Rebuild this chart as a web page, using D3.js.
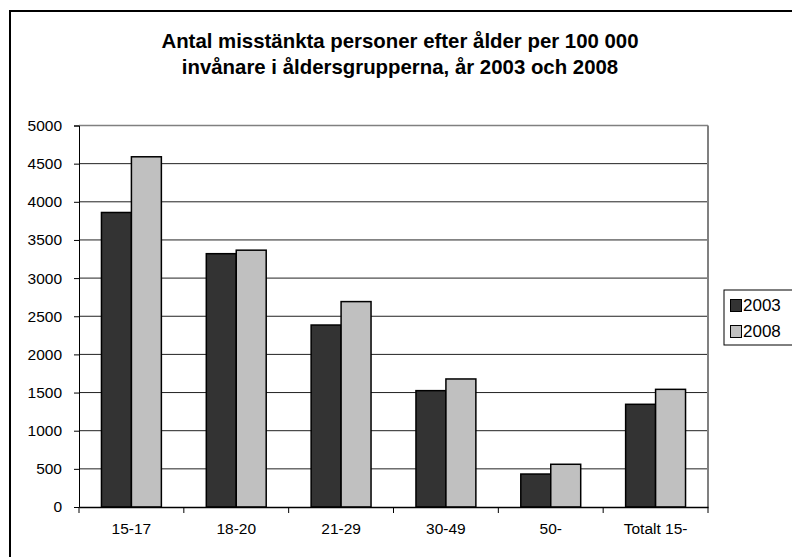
<!DOCTYPE html>
<html>
<head>
<meta charset="utf-8">
<script src="https://cdn.jsdelivr.net/npm/d3@7"></script>
<style>
  body { margin: 0; background: #fff; }
  text { font-family: "Liberation Sans", Arial, sans-serif; }
</style>
</head>
<body>
<div id="chart"></div>
<script>
var categories = ["15-17", "18-20", "21-29", "30-49", "50-", "Totalt 15-"];
var series = ["2003", "2008"];
var values2003 = [3860, 3320, 2385, 1525, 432, 1346];
var values2008 = [4590, 3366, 2692, 1678, 560, 1542];
var yTicks = [0, 500, 1000, 1500, 2000, 2500, 3000, 3500, 4000, 4500, 5000];
var colors = ["#333333", "#c0c0c0"];

var width = 792, height = 557;
var plot = { left: 79, right: 708, top: 125.5, bottom: 507 };

var svg = d3.select("#chart").append("svg").attr("width", width).attr("height", height);

// outer frame
svg.append("rect").attr("x", 10).attr("y", 11).attr("width", 800).attr("height", 600)
    .attr("fill", "#fff").attr("stroke", "#000").attr("stroke-width", 2);

svg.append("text").attr("x", 400).attr("y", 47.5).attr("text-anchor", "middle")
    .style("font-size", "20.4px").style("font-weight", "bold")
    .text("Antal misstänkta personer efter ålder per 100 000");
svg.append("text").attr("x", 400).attr("y", 74).attr("text-anchor", "middle")
    .style("font-size", "20.4px").style("font-weight", "bold")
    .text("invånare i åldersgrupperna, år 2003 och 2008");

var x = d3.scaleBand().domain(categories).range([plot.left, plot.right]).paddingInner(0).paddingOuter(0);
var inner = d3.scaleBand().domain(series).range([0, x.bandwidth()]).paddingInner(0).paddingOuter(0.75);
var y = d3.scaleLinear().domain([0, 5000]).range([plot.bottom, plot.top]);

// gridlines
svg.append("g").selectAll("line").data(yTicks.filter(function(d) { return d > 0; })).enter().append("line")
    .attr("x1", plot.left).attr("x2", plot.right)
    .attr("y1", function(d) { return y(d); }).attr("y2", function(d) { return y(d); })
    .attr("stroke", function(d) { return d === 5000 ? "#808080" : "#222"; })
    .attr("stroke-width", function(d) { return d === 5000 ? 1.5 : 1; });

// plot area right edge
svg.append("line").attr("x1", plot.right).attr("x2", plot.right).attr("y1", plot.top).attr("y2", plot.bottom)
    .attr("stroke", "#808080").attr("stroke-width", 2);

// bars
var data = [values2003, values2008];
var groups = svg.append("g").selectAll("g").data(categories).enter().append("g")
    .attr("transform", function(d) { return "translate(" + x(d) + ",0)"; });
groups.selectAll("rect").data(function(d, i) {
        return series.map(function(s, j) { return { s: s, v: data[j][i], c: colors[j] }; });
    }).enter().append("rect")
    .attr("x", function(d) { return inner(d.s); })
    .attr("width", inner.bandwidth())
    .attr("y", function(d) { return y(d.v); })
    .attr("height", function(d) { return y(0) - y(d.v); })
    .attr("fill", function(d) { return d.c; })
    .attr("stroke", "#000").attr("stroke-width", 1.5);

// y axis
var yAxis = svg.append("g").attr("transform", "translate(" + plot.left + ",0)")
    .call(d3.axisLeft(y).tickValues(yTicks).tickSize(5).tickPadding(12).tickFormat(d3.format("d")));
yAxis.select(".domain").attr("stroke", "#000").attr("stroke-width", 1);
yAxis.selectAll("text").style("font-size", "15.5px").attr("fill", "#000");

// x axis
var xAxis = svg.append("g").attr("transform", "translate(0," + plot.bottom + ")")
    .call(d3.axisBottom(x).tickSize(0).tickPadding(16));
xAxis.select(".domain").attr("stroke", "#000").attr("stroke-width", 1.5);
xAxis.selectAll("text").style("font-size", "15.5px").attr("fill", "#000");
xAxis.selectAll(".sep").data(d3.range(categories.length + 1)).enter().append("line")
    .attr("x1", function(i) { return plot.left + i * x.step(); })
    .attr("x2", function(i) { return plot.left + i * x.step(); })
    .attr("y1", 0).attr("y2", 6).attr("stroke", "#000");

// legend
var legend = svg.append("g");
legend.append("rect").attr("x", 724).attr("y", 290).attr("width", 80).attr("height", 55)
    .attr("fill", "#fff").attr("stroke", "#000").attr("stroke-width", 1);
series.forEach(function(s, i) {
    legend.append("rect").attr("x", 730.5).attr("y", 299.5 + i * 26).attr("width", 11).attr("height", 12)
        .attr("fill", colors[i]).attr("stroke", "#000").attr("stroke-width", 1);
    legend.append("text").attr("x", 743).attr("y", 311 + i * 26)
        .style("font-size", "17px").text(s);
});
</script>
</body>
</html>
